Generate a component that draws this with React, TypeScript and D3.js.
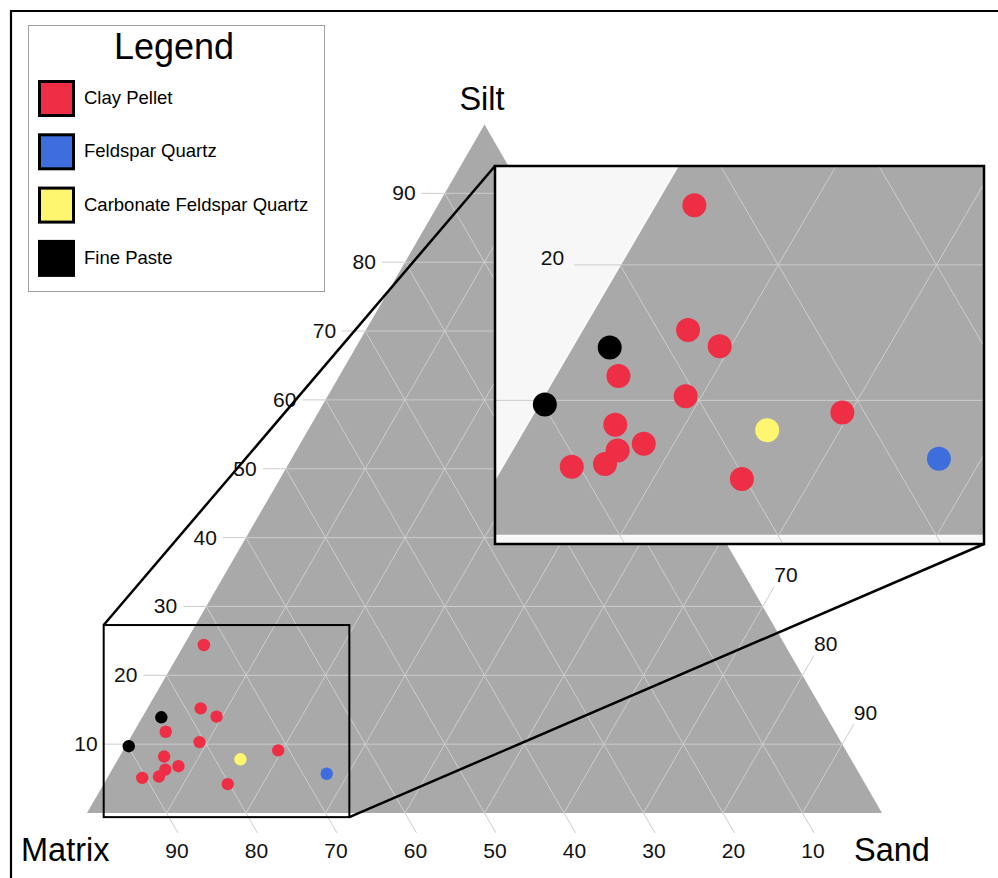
import React, { useEffect, useRef } from "react";
import * as d3 from "d3";

const WIDTH = 998;
const HEIGHT = 878;

// [matrix, silt, sand] in percent
const clayPellet = [
  [73.1, 24.4, 2.5],
  [78.1, 15.2, 6.7],
  [76.7, 14.0, 9.3],
  [84.2, 11.8, 4.0],
  [80.7, 10.3, 9.0],
  [71.4, 9.1, 19.5],
  [86.2, 8.2, 5.6],
  [87.0, 6.3, 6.7],
  [85.1, 6.8, 8.1],
  [90.5, 5.1, 4.4],
  [88.3, 5.3, 6.4],
  [80.2, 4.2, 15.6],
];
const feldsparQuartz = [[67.0, 5.7, 27.3]];
const carbonateFeldsparQuartz = [[76.8, 7.8, 15.4]];
const finePaste = [
  [83.7, 13.9, 2.4],
  [89.9, 9.7, 0.4],
];

const SERIES = [
  { name: "Clay Pellet", color: "#ee2e45", data: clayPellet },
  { name: "Feldspar Quartz", color: "#3e6ddd", data: feldsparQuartz },
  { name: "Carbonate Feldspar Quartz", color: "#fff66f", data: carbonateFeldsparQuartz },
  { name: "Fine Paste", color: "#000000", data: finePaste },
];

const TICKS = [10, 20, 30, 40, 50, 60, 70, 80, 90];

// zoom window, in ternary units (u = sand + silt/2, v = silt)
const ZOOM_U = [2.1, 33];
const ZOOM_V = [-0.6, 27.3];

const FONT = "'Liberation Sans', Arial, Helvetica, sans-serif";
const GRID = "#cdcdcd";

type Scale = d3.ScaleLinear<number, number>;
type Box = { x0: number; x1: number; y0: number; y1: number };

// ternary -> [u, v]
const tern = (m: number, s: number, d: number) => {
  const t = m + s + d;
  return [((d + s / 2) / t) * 100, (s / t) * 100];
};

// rough bbox of a tick label
const labelBox = (x: number, y: number, anchor: string): Box => {
  const w = 24;
  const x0 = anchor === "end" ? x - w : anchor === "middle" ? x - w / 2 : x;
  return { x0, x1: x0 + w, y0: y - 16, y1: y };
};
const overlaps = (a: Box, b: Box) => a.x0 < b.x1 && a.x1 > b.x0 && a.y0 < b.y1 && a.y1 > b.y0;
const inside = (a: Box, b: Box) => a.x0 >= b.x0 && a.x1 <= b.x1 && a.y0 >= b.y0 && a.y1 <= b.y1;

function drawTernary(
  g: d3.Selection<SVGGElement, unknown, null, undefined>,
  x: Scale,
  y: Scale,
  opt: { r: number; inset: boolean; show: (b: Box) => boolean }
) {
  const P = (m: number, s: number, d: number) => {
    const [u, v] = tern(m, s, d);
    return [x(u), y(v)];
  };
  const line = (a: number[], b: number[]) =>
    g.append("line")
      .attr("x1", a[0]).attr("y1", a[1])
      .attr("x2", b[0]).attr("y2", b[1])
      .attr("stroke", GRID).attr("stroke-width", 1);
  const label = (px: number, py: number, anchor: string, v: number) => {
    if (!opt.show(labelBox(px, py, anchor))) return;
    g.append("text")
      .attr("x", px).attr("y", py)
      .attr("text-anchor", anchor)
      .attr("font-family", FONT)
      .attr("font-size", 21)
      .attr("fill", "#111")
      .text(v);
  };

  const corners = [P(100, 0, 0), P(0, 100, 0), P(0, 0, 100)];
  g.append("polygon")
    .attr("points", corners.map((c) => c.join(",")).join(" "))
    .attr("fill", "#a9a9a9")
    .attr("stroke", opt.inset ? "#fafafa" : "none")
    .attr("stroke-width", 2);

  const tl = 2.9; // tick length, in %
  TICKS.forEach((i) => {
    // grid
    line(P(100 - i, i, 0), P(0, i, 100 - i)); // silt
    line(P(i, 100 - i, 0), P(i, 0, 100 - i)); // matrix
    line(P(100 - i, 0, i), P(0, 100 - i, i)); // sand

    // silt ticks (left)
    const sEnd = [x(i / 2 - tl), y(i)];
    line(P(100 - i, i, 0), sEnd);
    label(sEnd[0] - (opt.inset ? 10 : 6), sEnd[1] + (opt.inset ? 0 : 7), "end", i);

    // matrix ticks (bottom)
    const mEnd = P(i, -tl, 100 - i + tl);
    line(P(i, 0, 100 - i), mEnd);
    label(mEnd[0] - 1, mEnd[1] + 25, "middle", i);

    // sand ticks (right)
    const dEnd = P(-tl, 100 - i + tl, i);
    line(P(0, 100 - i, i), dEnd);
    label(dEnd[0], dEnd[1] - 4, "start", i);
  });

  SERIES.forEach((ser) => {
    g.append("g")
      .selectAll("circle")
      .data(ser.data)
      .join("circle")
      .attr("cx", (d) => P(d[0], d[1], d[2])[0])
      .attr("cy", (d) => P(d[0], d[1], d[2])[1])
      .attr("r", opt.r)
      .attr("fill", ser.color);
  });
}

const App: React.FC = () => {
  const mainRef = useRef<SVGGElement | null>(null);
  const insetRef = useRef<SVGGElement | null>(null);

  const x = d3.scaleLinear().domain([0, 100]).range([87, 882]);
  const y = d3.scaleLinear().domain([0, 100]).range([813, 124.5]);
  const xi = d3.scaleLinear().domain(ZOOM_U).range([495, 984]);
  const yi = d3.scaleLinear().domain(ZOOM_V).range([544, 166]);

  const box: Box = { x0: x(ZOOM_U[0]), x1: x(ZOOM_U[1]), y0: y(ZOOM_V[1]), y1: y(ZOOM_V[0]) };
  const ibox: Box = { x0: xi(ZOOM_U[0]), x1: xi(ZOOM_U[1]), y0: yi(ZOOM_V[1]), y1: yi(ZOOM_V[0]) };
  const cover: Box = { x0: ibox.x0 - 20, x1: ibox.x1 + 20, y0: ibox.y0 - 30, y1: ibox.y1 + 20 };

  useEffect(() => {
    const g = d3.select(mainRef.current);
    g.selectAll("*").remove();
    drawTernary(g as any, x, y, { r: 6.2, inset: false, show: (b) => !overlaps(b, cover) });

    const gi = d3.select(insetRef.current);
    gi.selectAll("*").remove();
    gi.append("rect")
      .attr("x", ibox.x0).attr("y", ibox.y0)
      .attr("width", ibox.x1 - ibox.x0).attr("height", ibox.y1 - ibox.y0)
      .attr("fill", "#f7f7f7");
    drawTernary(gi as any, xi, yi, { r: 12, inset: true, show: (b) => inside(b, ibox) });
  }, []);

  return (
    <svg
      width={WIDTH}
      height={HEIGHT}
      style={{ position: "absolute", left: 0, top: 0, background: "#fff" }}
    >
      <defs>
        <clipPath id="insetClip">
          <rect x={ibox.x0} y={ibox.y0} width={ibox.x1 - ibox.x0} height={ibox.y1 - ibox.y0} />
        </clipPath>
      </defs>
      <path d={`M11,${HEIGHT} V11 H${WIDTH}`} fill="none" stroke="#000" strokeWidth={2.2} />

      <g ref={mainRef} />

      <text x={482} y={110} textAnchor="middle" fontFamily={FONT} fontSize={32.5}>Silt</text>
      <text x={21} y={861} fontFamily={FONT} fontSize={32.5}>Matrix</text>
      <text x={854} y={861} fontFamily={FONT} fontSize={32.5}>Sand</text>

      <rect x={box.x0} y={box.y0} width={box.x1 - box.x0} height={box.y1 - box.y0}
        fill="none" stroke="#000" strokeWidth={2} />
      <line x1={box.x0} y1={box.y0} x2={ibox.x0} y2={ibox.y0} stroke="#000" strokeWidth={2.5} />
      <line x1={box.x1} y1={box.y1} x2={ibox.x1} y2={ibox.y1} stroke="#000" strokeWidth={2.5} />

      <g ref={insetRef} clipPath="url(#insetClip)" />
      <rect x={ibox.x0} y={ibox.y0} width={ibox.x1 - ibox.x0} height={ibox.y1 - ibox.y0}
        fill="none" stroke="#000" strokeWidth={2.5} />

      <g fontFamily={FONT}>
        <rect x={28.5} y={25.5} width={296} height={266} fill="#fff" stroke="#a0a0a0" strokeWidth={1} />
        <text x={174} y={59} textAnchor="middle" fontSize={36}>Legend</text>
        {SERIES.map((s, i) => (
          <g key={s.name} transform={`translate(0, ${i * 53.3})`}>
            <rect x={39.5} y={81.5} width={34} height={34} fill={s.color} stroke="#000" strokeWidth={3} />
            <text x={84} y={104} fontSize={18.5}>{s.name}</text>
          </g>
        ))}
      </g>
    </svg>
  );
};

export default App;
